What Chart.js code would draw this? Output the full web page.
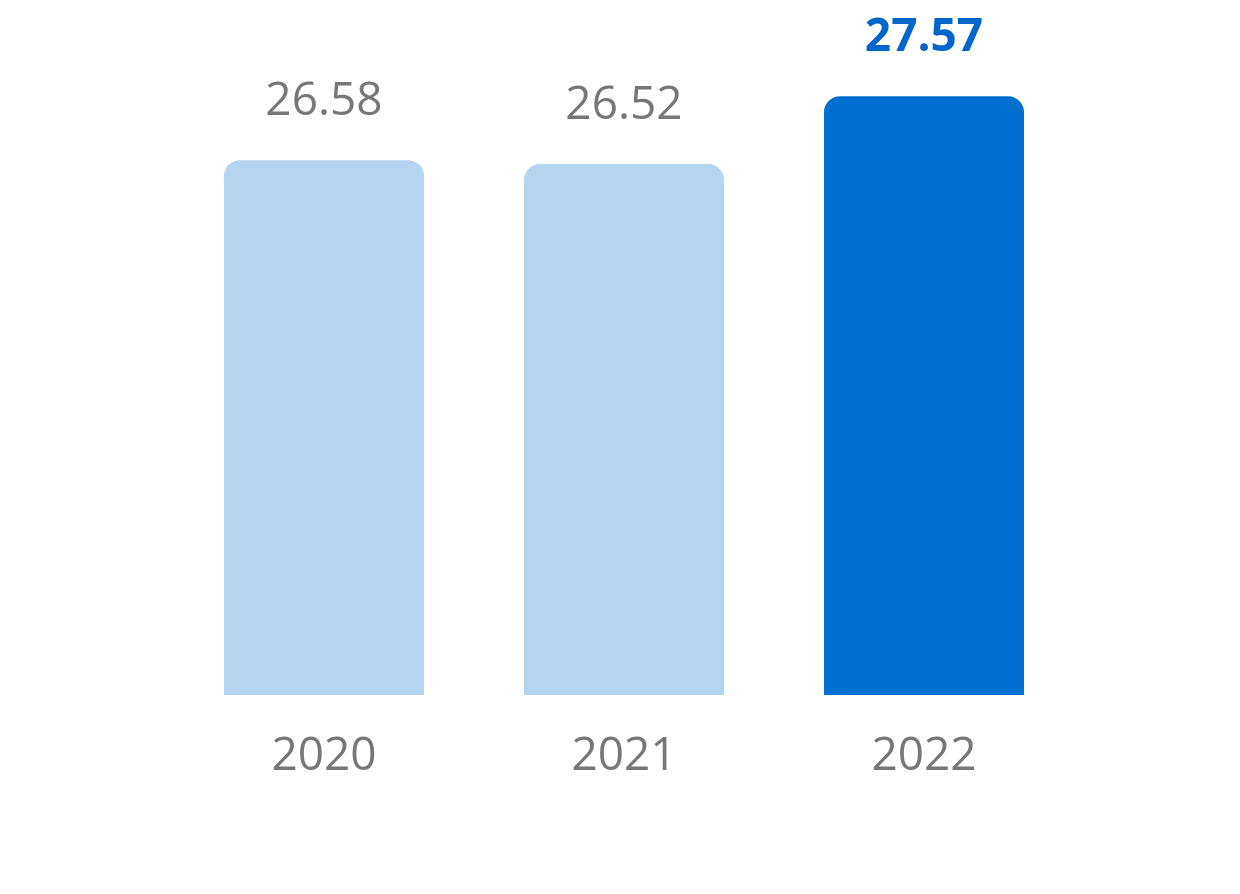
<!DOCTYPE html>
<html>
<head>
<meta charset="utf-8">
<script src="https://cdn.jsdelivr.net/npm/chart.js@4"></script>
<style>
  html, body { margin: 0; padding: 0; background: #fff; }
  #wrap { width: 1240px; height: 894px; }
</style>
</head>
<body>
<div id="wrap"><canvas id="chart"></canvas></div>
<script>
const years = ['2020', '2021', '2022'];
const values = [26.58, 26.52, 27.57];
const barColors = ['#b4d4f0', '#b4d4f0', '#0070d0'];
const labelColors = ['#777777', '#777777', '#0066cc'];
const labelWeights = ['normal', 'normal', 'bold'];

// draws value labels above bars and year labels below the axis
const labelPlugin = {
    id: 'labels',
    afterDatasetsDraw(chart) {
        const ctx = chart.ctx;
        const meta = chart.getDatasetMeta(0);
        ctx.save();
        ctx.textAlign = 'center';
        ctx.textBaseline = 'middle';
        meta.data.forEach((bar, i) => {
            ctx.fillStyle = labelColors[i];
            ctx.font = labelWeights[i] + ' 46px "Open Sans", sans-serif';
            ctx.fillText(values[i].toFixed(2), bar.x, bar.y - 58);
            ctx.fillStyle = '#777777';
            ctx.font = 'normal 46px "Open Sans", sans-serif';
            ctx.fillText(years[i], bar.x, chart.chartArea.bottom + 62);
        });
        ctx.restore();
    }
};

new Chart(document.getElementById('chart'), {
    type: 'bar',
    data: {
        labels: years,
        datasets: [{
            data: values,
            backgroundColor: barColors,
            borderRadius: 16,
            borderSkipped: false,
            barPercentage: 0.667,
            categoryPercentage: 1
        }]
    },
    options: {
        responsive: true,
        maintainAspectRatio: false,
        animation: false,
        layout: { padding: { left: 174, right: 166, top: 20, bottom: 199 } },
        plugins: { legend: { display: false }, tooltip: { enabled: false } },
        scales: {
            x: { display: false },
            y: { display: false, min: 18.3, max: 28.75 }
        }
    },
    plugins: [labelPlugin]
});
</script>
</body>
</html>
